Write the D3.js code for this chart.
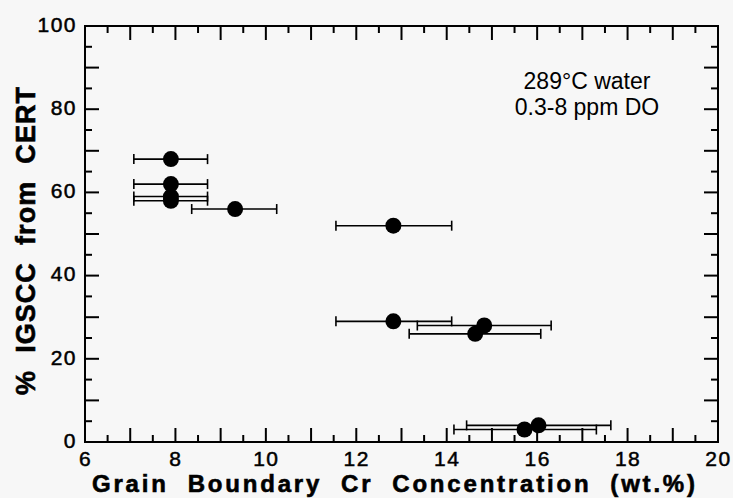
<!DOCTYPE html>
<html>
<head>
<meta charset="utf-8">
<script src="https://cdn.jsdelivr.net/npm/d3@7"></script>
<style>
  body { margin: 0; background: #f7f7f7; }
  svg { display: block; }
</style>
</head>
<body>
<svg id="s"></svg>
<script>
// chart values
var crConc  = [7.9, 7.9, 7.9, 7.9, 9.32, 12.82, 12.82, 14.83, 14.63, 16.03, 15.72];
var igscc   = [68, 62, 59, 58, 56, 52, 29, 28, 26, 4, 3];
var crLow   = [7.08, 7.08, 7.08, 7.08, 8.36, 11.55, 11.55, 13.35, 13.17, 14.44, 14.16];
var crHigh  = [8.71, 8.71, 8.71, 8.71, 10.24, 14.11, 14.11, 16.31, 16.08, 17.63, 17.31];

var xLabels = [6, 8, 10, 12, 14, 16, 18, 20];
var yLabels = [0, 20, 40, 60, 80, 100];
var xTitle = "Grain  Boundary  Cr  Concentration  (wt.%)";
var yTitle = "%  IGSCC  from  CERT";
var note = ["289\u00b0C water", "0.3-8 ppm DO"];

var W = 733, H = 498;
var L = 85, R = 718, T = 26, B = 442;

var s = d3.select('#s').attr('width', W).attr('height', H);

var x = d3.scaleLinear().domain([6, 20]).range([L, R]);
var y = d3.scaleLinear().domain([0, 100]).range([B, T]);

var xMajor = d3.range(7, 20, 1);
var xMinor = d3.range(6.5, 20, 1);
var yMajor = d3.range(10, 100, 10);
var yMinor = d3.range(5, 100, 10);

// inward ticks on all four sides
var tk = s.append('g').attr('stroke', '#000').attr('stroke-width', 2);
function xTicks(vals, len) {
  tk.selectAll(null).data(vals).enter().append('line')
    .attr('x1', function(d){ return x(d); }).attr('x2', function(d){ return x(d); })
    .attr('y1', B).attr('y2', B - len);
  tk.selectAll(null).data(vals).enter().append('line')
    .attr('x1', function(d){ return x(d); }).attr('x2', function(d){ return x(d); })
    .attr('y1', T).attr('y2', T + len);
}
function yTicks(vals, len) {
  tk.selectAll(null).data(vals).enter().append('line')
    .attr('y1', function(d){ return y(d); }).attr('y2', function(d){ return y(d); })
    .attr('x1', L).attr('x2', L + len);
  tk.selectAll(null).data(vals).enter().append('line')
    .attr('y1', function(d){ return y(d); }).attr('y2', function(d){ return y(d); })
    .attr('x1', R).attr('x2', R - len);
}
xTicks(xMajor, 14);
xTicks(xMinor, 7);
yTicks(yMajor, 14);
yTicks(yMinor, 7);

// frame
s.append('rect')
  .attr('x', L).attr('y', T)
  .attr('width', R - L).attr('height', B - T)
  .attr('fill', 'none').attr('stroke', '#000').attr('stroke-width', 2);

// tick labels
var xl = s.append('g')
  .attr('transform', 'translate(0,' + B + ')')
  .call(d3.axisBottom(x).tickValues(xLabels).tickSize(0).tickPadding(9));
xl.select('.domain').remove();
xl.selectAll('text')
  .attr('font-family', 'Liberation Sans, Arial, sans-serif')
  .attr('font-size', 21).attr('fill', '#000')
  .attr('letter-spacing', 1.5)
  .attr('stroke', '#000').attr('stroke-width', 0.5);

var yl = s.append('g')
  .attr('transform', 'translate(' + L + ',0)')
  .call(d3.axisLeft(y).tickValues(yLabels).tickSize(0).tickPadding(8));
yl.select('.domain').remove();
yl.selectAll('text')
  .attr('font-family', 'Liberation Sans, Arial, sans-serif')
  .attr('font-size', 21).attr('fill', '#000')
  .attr('letter-spacing', 1.5)
  .attr('dy', '0.25em')
  .attr('stroke', '#000').attr('stroke-width', 0.5);

// error bars
var pts = crConc.map(function(c, i) {
  return {x: c, y: igscc[i], lo: crLow[i], hi: crHigh[i]};
});

var eb = s.append('g').attr('stroke', '#000').attr('stroke-width', 1.6);
eb.selectAll(null).data(pts).enter().append('line')
  .attr('x1', function(d){ return x(d.lo); })
  .attr('x2', function(d){ return x(d.hi); })
  .attr('y1', function(d){ return y(d.y); })
  .attr('y2', function(d){ return y(d.y); });
eb.selectAll(null).data(pts).enter().append('line')
  .attr('x1', function(d){ return x(d.lo); })
  .attr('x2', function(d){ return x(d.lo); })
  .attr('y1', function(d){ return y(d.y) - 5; })
  .attr('y2', function(d){ return y(d.y) + 5; });
eb.selectAll(null).data(pts).enter().append('line')
  .attr('x1', function(d){ return x(d.hi); })
  .attr('x2', function(d){ return x(d.hi); })
  .attr('y1', function(d){ return y(d.y) - 5; })
  .attr('y2', function(d){ return y(d.y) + 5; });

s.selectAll('circle').data(pts).enter().append('circle')
  .attr('cx', function(d){ return x(d.x); })
  .attr('cy', function(d){ return y(d.y); })
  .attr('r', 8)
  .attr('fill', '#000');

// annotation
s.append('g').selectAll('text').data(note).enter().append('text')
  .attr('x', 587)
  .attr('y', function(d, i){ return 89 + i * 26; })
  .attr('text-anchor', 'middle')
  .attr('font-family', 'Liberation Sans, Arial, sans-serif')
  .attr('font-size', 23)
  .attr('fill', '#000')
  .text(function(d){ return d; });

// axis titles
s.append('text')
  .attr('x', 92).attr('y', 492)
  .attr('textLength', 603).attr('lengthAdjust', 'spacing')
  .attr('font-family', 'Liberation Sans, Arial, sans-serif')
  .attr('font-size', 24).attr('font-weight', 'bold')
  .attr('fill', '#000')
  .attr('stroke', '#000').attr('stroke-width', 0.6)
  .style('white-space', 'pre')
  .text(xTitle);

s.append('text')
  .attr('transform', 'translate(35,395) rotate(-90)')
  .attr('x', 0).attr('y', 0)
  .attr('textLength', 308).attr('lengthAdjust', 'spacing')
  .attr('font-family', 'Liberation Sans, Arial, sans-serif')
  .attr('font-size', 27).attr('font-weight', 'bold')
  .attr('fill', '#000')
  .attr('stroke', '#000').attr('stroke-width', 0.6)
  .style('white-space', 'pre')
  .text(yTitle);
</script>
</body>
</html>
